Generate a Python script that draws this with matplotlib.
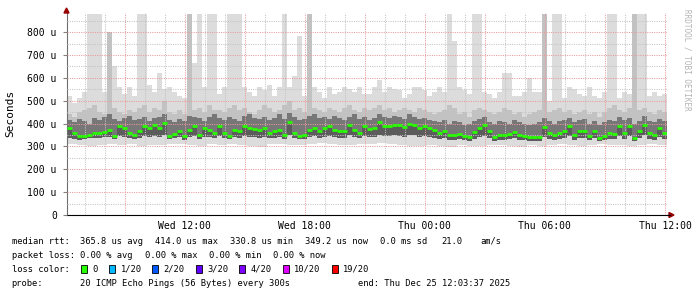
import numpy as np
import matplotlib
matplotlib.use("Agg")
import matplotlib.pyplot as plt
from matplotlib.patches import Rectangle

# --- data (microseconds), 15 minute buckets from Wed 06:06 to Thu 12:06 ---
t_start = 6.1          # hours after Wed 00:00
bucket_h = 0.25

median = [380, 358, 344, 347, 350, 358, 358, 365, 373, 347, 388, 380, 358, 351, 366,
          388, 380, 395, 380, 402, 347, 356, 366, 347, 373, 388, 351, 380, 373, 358,
          388, 358, 347, 370, 366, 388, 380, 377, 370, 380, 358, 366, 373, 351, 409,
          358, 347, 351, 373, 380, 366, 380, 388, 373, 366, 366, 395, 373, 358, 388,
          377, 380, 405, 388, 391, 395, 395, 384, 398, 395, 380, 388, 380, 370, 358,
          366, 351, 351, 355, 344, 340, 362, 380, 395, 366, 340, 351, 351, 355, 362,
          351, 344, 340, 340, 340, 384, 358, 351, 358, 366, 388, 351, 366, 369, 347,
          366, 336, 347, 358, 355, 388, 358, 388, 336, 366, 395, 358, 351, 380, 358]

ping_max = [520, 490, 510, 540, 878, 878, 878, 540, 800, 650, 560, 530, 560, 520, 878,
            878, 570, 540, 620, 550, 560, 540, 520, 510, 878, 665, 878, 560, 878, 878,
            530, 560, 878, 878, 878, 560, 540, 520, 560, 545, 570, 520, 560, 878, 560,
            607, 782, 520, 878, 560, 540, 510, 560, 530, 540, 560, 550, 540, 560, 530,
            530, 560, 590, 540, 560, 550, 545, 510, 530, 560, 560, 545, 520, 540, 560,
            540, 878, 763, 560, 545, 530, 878, 878, 540, 530, 510, 540, 620, 620, 520,
            520, 540, 600, 540, 540, 878, 500, 878, 878, 510, 560, 550, 530, 520, 560,
            520, 510, 540, 878, 878, 510, 540, 530, 878, 878, 878, 520, 540, 520, 530]

ping_hi = [440, 430, 450, 460, 470, 480, 450, 440, 800, 470, 450, 440, 460, 450, 470,
           480, 450, 470, 460, 500, 450, 440, 460, 440, 878, 460, 470, 450, 480, 460,
           460, 450, 470, 480, 460, 470, 450, 440, 460, 480, 470, 450, 460, 480, 500,
           460, 470, 450, 878, 470, 460, 450, 470, 460, 450, 470, 480, 460, 450, 470,
           460, 470, 480, 460, 470, 450, 460, 470, 460, 450, 470, 460, 450, 440, 450,
           460, 480, 470, 440, 450, 430, 460, 470, 460, 450, 440, 450, 470, 460, 440,
           450, 430, 440, 450, 460, 878, 450, 460, 470, 450, 460, 440, 450, 460, 440,
           450, 430, 450, 470, 480, 460, 450, 470, 878, 460, 470, 450, 440, 460, 450]

ping_hi_in = [415, 405, 420, 410, 400, 425, 415, 430, 440, 420, 410, 425, 435, 415, 420,
              430, 410, 425, 430, 440, 415, 405, 420, 410, 435, 430, 425, 410, 430, 440,
              425, 415, 430, 420, 410, 435, 440, 425, 420, 430, 415, 425, 440, 420, 445,
              430, 415, 420, 435, 440, 425, 430, 420, 435, 425, 415, 430, 440, 420, 430,
              415, 425, 440, 430, 425, 435, 430, 420, 440, 430, 420, 425, 415, 410, 405,
              415, 400, 410, 405, 395, 400, 410, 420, 430, 405, 400, 410, 405, 400, 415,
              405, 400, 395, 400, 405, 425, 410, 400, 410, 415, 425, 405, 415, 420, 400,
              410, 395, 405, 415, 410, 430, 415, 425, 400, 410, 435, 410, 405, 420, 410]

ping_lo_in = [338, 334, 330, 332, 335, 338, 336, 340, 342, 333, 345, 340, 336, 334, 338,
              344, 340, 346, 342, 348, 332, 338, 340, 330, 342, 346, 334, 342, 340, 336,
              345, 338, 332, 340, 338, 346, 342, 340, 338, 342, 336, 338, 340, 334, 350,
              336, 332, 334, 340, 344, 338, 342, 346, 340, 336, 338, 348, 340, 336, 346,
              340, 342, 350, 344, 346, 348, 346, 342, 350, 348, 342, 344, 340, 336, 332,
              336, 330, 330, 332, 328, 326, 334, 340, 346, 336, 326, 330, 330, 332, 336,
              330, 328, 326, 326, 326, 342, 334, 330, 334, 336, 344, 330, 336, 338, 330,
              336, 324, 330, 334, 332, 346, 334, 344, 324, 336, 348, 334, 330, 342, 334]

# 30 minute resolution for the lowest ping
ping_min = [310, 305, 300, 308, 312, 305, 310, 300, 308, 305, 312, 310, 305, 300, 310,
            308, 312, 305, 300, 296, 310, 312, 308, 305, 310, 315, 312, 308, 305, 310,
            312, 315, 310, 305, 300, 302, 305, 300, 298, 305, 302, 300, 305, 308, 300,
            298, 305, 300, 308, 310, 305, 300, 308, 310, 305, 308, 300, 305, 310, 308]

tick_hours = [12, 18, 24, 30, 36]
tick_labels = ['Wed 12:00', 'Wed 18:00', 'Thu 00:00', 'Thu 06:00', 'Thu 12:00']

loss_labels = ['0', '1/20', '2/20', '3/20', '4/20', '10/20', '19/20']
loss_colors = ['#26ff00', '#00b8ff', '#0059ff', '#5e00ff', '#7e00ff', '#dd00ff', '#ff0000']

# --- figure ---
W, H = 697, 297
fig = plt.figure(figsize=(W / 100, H / 100), dpi=100)
mono = 'DejaVu Sans Mono'
ax = fig.add_axes([66.5 / W, 1 - 215 / H, (667 - 66.5) / W, (215 - 13) / H])

n = len(median)
edges = t_start + bucket_h * np.arange(n + 1)
lo = np.repeat(ping_min, 2)

# smoke, light outside to dark inside
ax.stairs(ping_max, edges, baseline=lo, fill=True, color='#dcdcdc', lw=0, zorder=1)
ax.stairs(ping_hi, edges, baseline=ping_lo_in, fill=True, color='#c2c2c2', lw=0, zorder=1.1)
ax.stairs(ping_hi_in, edges, baseline=ping_lo_in, fill=True, color='#777777', lw=0, zorder=1.2)
ax.stairs(median, edges, baseline=ping_lo_in, fill=True, color='#3c3c3c', lw=0,
          zorder=1.3, alpha=0.45)
ax.hlines(median, edges[:-1], edges[1:], colors='#26ff00', lw=2.0, zorder=4)

ax.set_xlim(t_start, t_start + 30)
ax.set_ylim(0, 884)

# grid
ax.set_xticks(np.arange(7, 37, 1), minor=True)
ax.set_yticks(np.arange(0, 900, 100))
ax.set_yticks(np.arange(50, 900, 100), minor=True)
dots = (0, (1, 1.2))
ax.grid(True, which='minor', color='#c4c4c4', lw=0.75, ls=dots, zorder=3)
ax.grid(True, which='major', color='#eb9a9a', lw=0.75, ls=dots, zorder=3)
ax.set_axisbelow(False)

ax.set_xticks(np.arange(9, 37, 3), minor=False)
ax.xaxis.set_major_formatter(plt.FuncFormatter(
    lambda v, p: tick_labels[tick_hours.index(round(v))] if round(v) in tick_hours else ''))
ax.yaxis.set_major_formatter(plt.FuncFormatter(
    lambda v, p: '0' if v == 0 else f'{int(v)} u'))

for lab in ax.get_xticklabels() + ax.get_yticklabels():
    lab.set_fontfamily(mono)
    lab.set_fontsize(7)
ax.tick_params(axis='x', which='both', length=0, pad=4)
ax.tick_params(axis='y', which='major', length=3, color='#808080', pad=4)
ax.tick_params(axis='y', which='minor', length=0)

for s in ['top', 'right']:
    ax.spines[s].set_visible(False)
ax.spines['left'].set_color('#6e6e6e')
ax.spines['bottom'].set_color('black')
ax.spines['left'].set_linewidth(0.8)
ax.spines['bottom'].set_linewidth(0.8)

# arrows at the axis ends
fig.patches.append(plt.Polygon([[64 / W, 1 - 13 / H], [69 / W, 1 - 13 / H], [66.5 / W, 1 - 8 / H]],
                               closed=True, color='#990000', transform=fig.transFigure))
fig.patches.append(plt.Polygon([[669 / W, 1 - 212.5 / H], [669 / W, 1 - 217.5 / H], [674 / W, 1 - 215 / H]],
                               closed=True, color='#990000', transform=fig.transFigure))
fig.add_artist(plt.Line2D([667 / W, 670 / W], [1 - 215 / H, 1 - 215 / H], color='black', lw=0.8))

fig.text(10 / W, 1 - 113 / H, 'Seconds', rotation=90, family=mono, fontsize=8,
         ha='center', va='center')
fig.text(687 / W, 1 - 60 / H, 'RRDTOOL / TOBI OETIKER', rotation=270, family=mono,
         fontsize=5.5, color='#b4b4b4', ha='center', va='center')

# --- legend below the graph ---
def txt(x, y, s):
    fig.text(x / W, 1 - y / H, s, family=mono, fontsize=6.3, ha='left', va='center')

y1, y2, y3, y4 = 241.5, 255.5, 269.3, 283.3
txt(11.7, y1, 'median rtt:')
txt(80, y1, '365.8 us avg')
txt(155, y1, '414.0 us max')
txt(230, y1, '330.8 us min')
txt(305, y1, '349.2 us now')
txt(380, y1, '0.0 ms sd')
txt(441.7, y1, '21.0')
txt(480, y1, 'am/s')

txt(11.7, y2, 'packet loss:')
txt(80, y2, '0.00 % avg')
txt(145, y2, '0.00 % max')
txt(209, y2, '0.00 % min')
txt(273, y2, '0.00 % now')

txt(11.7, y3, 'loss color:')
box_x = [81, 109, 152.3, 195.7, 239.3, 282.7, 331.7]
for bx, lab, col in zip(box_x, loss_labels, loss_colors):
    fig.add_artist(Rectangle((bx / W, 1 - (y3 + 4) / H), 6 / W, 8 / H,
                             facecolor=col, edgecolor='black', lw=0.6,
                             transform=fig.transFigure))
    txt(bx + 11.5, y3, lab)

txt(11.7, y4, 'probe:')
txt(80, y4, '20 ICMP Echo Pings (56 Bytes) every 300s')
txt(358.3, y4, 'end: Thu Dec 25 12:03:37 2025')

fig.savefig('out.png', dpi=100)
